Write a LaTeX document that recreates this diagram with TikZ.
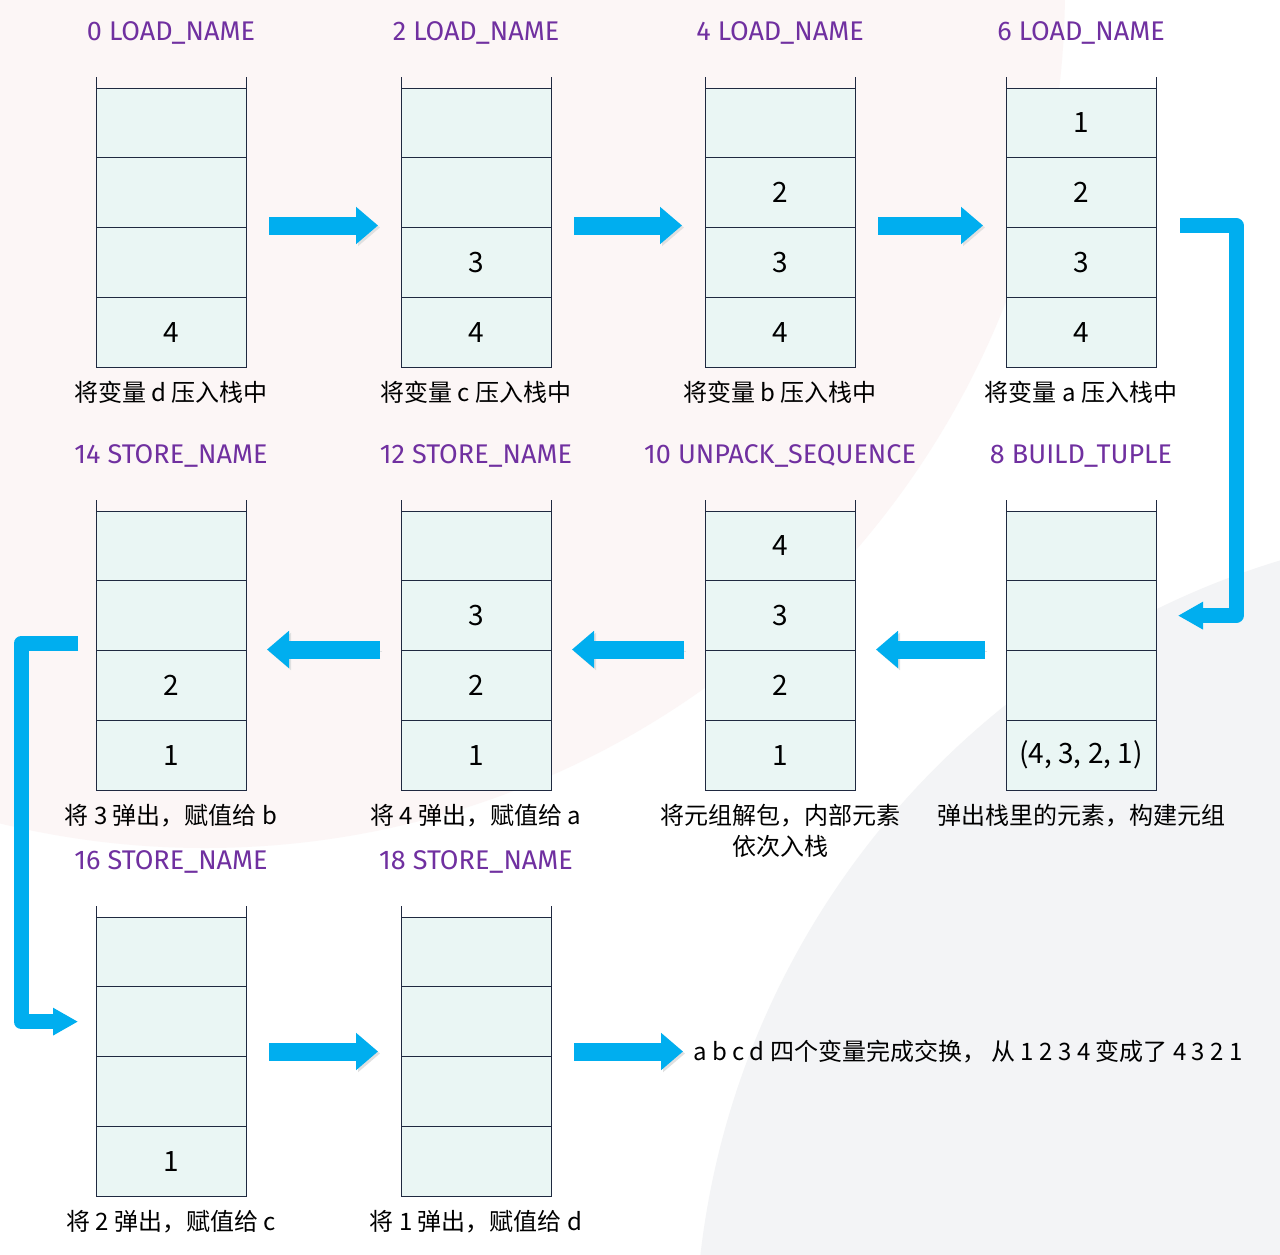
\documentclass[tikz,border=0pt]{standalone}
\usepackage{fontspec}
\setmainfont{Noto Sans CJK SC}
\newfontfamily\opfont{Fira Sans}
\usetikzlibrary{arrows.meta, positioning}
\definecolor{opcolor}{HTML}{7030A0}
\definecolor{cellfill}{HTML}{EAF6F4}
\definecolor{cellline}{HTML}{1F2940}
\definecolor{flowblue}{HTML}{00AEEF}
\definecolor{bgpink}{HTML}{FCF6F6}
\definecolor{bggray}{HTML}{F3F4F6}

\begin{document}
\begin{tikzpicture}[x=1pt, y=-1pt,
    node distance=0pt,
    cell/.style={draw=cellline, line width=1pt, fill=cellfill, minimum width=150pt, minimum height=69.75pt, inner sep=0pt, outer sep=0pt, font=\fontsize{28}{32}\selectfont},
    opname/.style={text=opcolor, font=\opfont\fontsize{27}{30}\selectfont},
    note/.style={align=center, inner sep=0pt, font=\fontsize{24}{31}\selectfont},
    shadowed/.style={preaction={draw=black!12, transform canvas={shift={(2pt,-2pt)}}}},
    flow/.style={shadowed, draw=flowblue, line width=18pt, -{Triangle[length=22pt, width=36pt]}},
    turn/.style={draw=flowblue, line width=15pt, line join=round, -{Triangle[length=25pt, width=26pt]}}
]
\useasboundingbox (0,0) rectangle (1280,1254);
\fill[white] (0,0) rectangle (1280,1254);
\begin{scope}
\clip (0,0) rectangle (1280,1254);
\fill[bgpink] (205,-12) circle[radius=860pt];
\fill[bggray] (1520,1350) circle[radius=825pt];
\end{scope}

% stacks: name / x / top / four cells / opcode / caption
\foreach \s/\x/\y/\a/\b/\c/\d/\op/\txt in {
    s0/171/88/{}/{}/{}/4/{0 LOAD\_NAME}/{将变量 d 压入栈中},
    s2/476/88/{}/{}/3/4/{2 LOAD\_NAME}/{将变量 c 压入栈中},
    s4/780/88/{}/2/3/4/{4 LOAD\_NAME}/{将变量 b 压入栈中},
    s6/1081/88/1/2/3/4/{6 LOAD\_NAME}/{将变量 a 压入栈中},
    s8/1081/511/{}/{}/{}/{(4, 3, 2, 1)}/{8 BUILD\_TUPLE}/{弹出栈里的元素，构建元组},
    s10/780/511/4/3/2/1/{10 UNPACK\_SEQUENCE}/{将元组解包，内部元素\\依次入栈},
    s12/476/511/{}/3/2/1/{12 STORE\_NAME}/{将 4 弹出，赋值给 a},
    s14/171/511/{}/{}/2/1/{14 STORE\_NAME}/{将 3 弹出，赋值给 b},
    s16/171/917/{}/{}/{}/1/{16 STORE\_NAME}/{将 2 弹出，赋值给 c},
    s18/476/917/{}/{}/{}/{}/{18 STORE\_NAME}/{将 1 弹出，赋值给 d}} {
  \node[cell] (\s-1) at (\x,\y+34.875) {\a};
  \node[cell, below=of \s-1] (\s-2) {\b};
  \node[cell, below=of \s-2] (\s-3) {\c};
  \node[cell, below=of \s-3] (\s-4) {\d};
  \draw[cellline, line width=1pt] (\s-1.north west) -- ++(0,-11) (\s-1.north east) -- ++(0,-11);
  \node[opname] (\s-op) at ([yshift=55pt]\s-1.north) {\op};
  \node[note, anchor=north] (\s-txt) at ([yshift=-14pt]\s-4.south) {\txt};
}

\node[note, anchor=west] (done) at ([shift={(142pt,5pt)}]s18-3.north east) {a b c d 四个变量完成交换， 从 1 2 3 4 变成了 4 3 2 1};

\draw[flow] ([shift={(23pt,2pt)}]s0-3.north east) -- ([shift={(-23pt,2pt)}]s2-3.north west);
\draw[flow] ([shift={(23pt,2pt)}]s2-3.north east) -- ([shift={(-23pt,2pt)}]s4-3.north west);
\draw[flow] ([shift={(23pt,2pt)}]s4-3.north east) -- ([shift={(-23pt,2pt)}]s6-3.north west);
\draw[turn] ([shift={(24pt,2pt)}]s6-3.north east) -| ([xshift=80pt]s8-2.east) -- ([xshift=22pt]s8-2.east);
\draw[flow] ([shift={(-21pt,1pt)}]s8-3.north west) -- ([shift={(21pt,1pt)}]s10-3.north east);
\draw[flow] ([shift={(-21pt,1pt)}]s10-3.north west) -- ([shift={(21pt,1pt)}]s12-3.north east);
\draw[flow] ([shift={(-21pt,1pt)}]s12-3.north west) -- ([shift={(21pt,1pt)}]s14-3.north east);
\draw[turn] ([shift={(-18pt,7pt)}]s14-3.north west) -| ([xshift=-75pt]s16-2.west) -- ([xshift=-18pt]s16-2.west);
\draw[flow] ([shift={(23pt,5pt)}]s16-3.north east) -- ([shift={(-23pt,5pt)}]s18-3.north west);
\draw[flow] ([shift={(23pt,5pt)}]s18-3.north east) -- ([xshift=-10pt]done.west);
\end{tikzpicture}
\end{document}
